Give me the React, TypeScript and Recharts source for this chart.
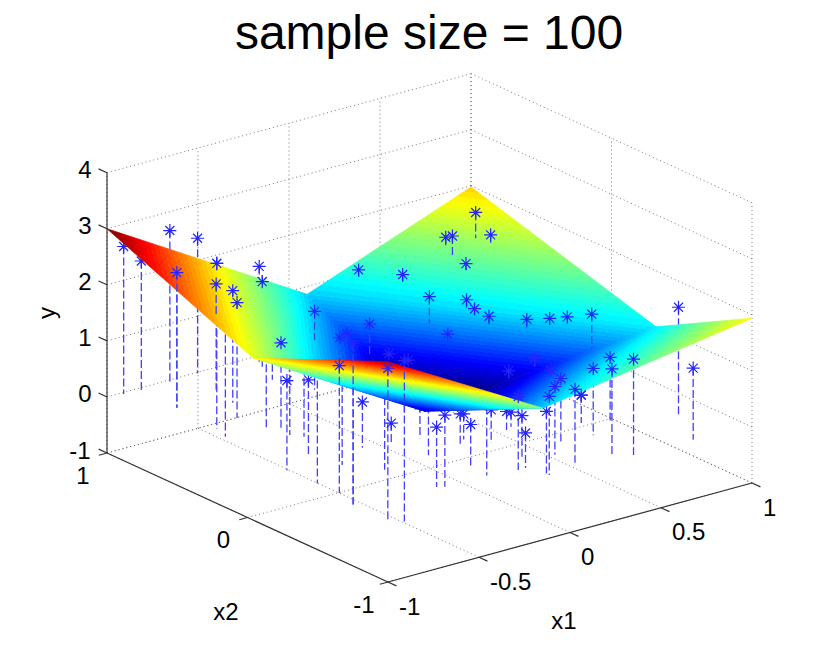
import { Scatter, ScatterChart, XAxis, YAxis } from "recharts";

const WIDTH = 830;
const HEIGHT = 655;

// axis ticks
const x1Ticks = [-1, -0.5, 0, 0.5, 1];
const x2Ticks = [-1, 0, 1];
const yTicks = [-1, 0, 1, 2, 3, 4];
const x1TickLabels = ["-1", "-0.5", "0", "0.5", "1"];
const x2TickLabels = ["-1", "0", "1"];
const yTickLabels = ["-1", "0", "1", "2", "3", "4"];

// fitted surface: corner and crease vertices
const surfaceX1 = [-1, 1, 1, -1, -1, 0.1, 1, -0.15, -0.15];
const surfaceX2 = [1, 1, -1, -1, -0.04, 1, -0.317, -1, -0.16];
const surfaceY = [3, 1.98, 1.94, 2.93, 1.89, 0.86, 1.0, 1.35, 0.33];
// names for the indexes above
const [A, B, R, F, EL, ET, ER, EB, M] = [0, 1, 2, 3, 4, 5, 6, 7, 8];

// back to front, with the colormap position of each corner
const facets = [
	[ET, ER, B],
	[ET, ER, M],
	[A, EL, ET],
	[EL, ET, M],
	[ER, R, EB],
	[ER, EB, M],
	[EL, F, M],
	[F, EB, M],
];
const facetShades = [
	[0.33, 0.36, 0.67],
	[0.33, 0.36, -0.1],
	[1, 0.6, 0.33],
	[0.6, 0.33, -0.1],
	[0.36, 0.63, 0.33],
	[0.36, 0.33, -0.1],
	[0.62, 0.95, 0.08],
	[0.95, 0.5, 0.08],
];

// samples, stems run from y down to 0
const sampleX1 = [
	-0.92, -0.85, -0.67, -0.84, -0.51, -0.86, -0.57, -0.89, -0.61, -0.71, -0.21, -0.255, -0.65, -0.7, -0.3,
	-0.93, -0.655, -0.62, -0.754, -0.925, -0.92, -0.7, -0.96, -0.5, -0.005, 0.035, 0.146, 0.2, 0.56, 0.62,
	0.63, 0.74, 0.83, 0.52, 0.51, 0.52, 0.635, 0.73, 0.865, 0.76, 0.82, 0.7, 0.38, 0.3, 0.54, 0.39, 0.565,
	0.4, 0.62, 0.22, 0.11, 0.12, -0.06, 0.44, -0.06, -0.13, 0.17, -0.04, -0.09, -0.26, -0.14, -0.09, -0.28,
	-0.02, 0.13, -0.51, -0.54, -0.33, -0.23, -0.38, -0.97, -0.91, -0.59, -0.015, 0.076, -0.03, -0.005, -0.23,
	0.34,
];
const sampleX2 = [
	0.985, 0.95, 0.98, 0.71, 0.99, 0.4, 0.78, 0.3, 0.61, 0.45, 0.94, 0.86, 0.215, 0.255, 0.73, -0.19, 0.146,
	0.09, -0.115, -0.4, -0.55, -0.285, -0.7, -0.17, 0.42, 0.55, 0.38, 0.26, 0.61, 0.64, 0.556, 0.63, 0.64,
	0.41, 0.34, 0.25, 0.13, 0.09, 0.14, -0.17, -0.71, -0.97, -0.96, -0.91, -0.586, -0.66, -0.016, -0.045,
	-0.06, -0.65, -0.75, -0.88, -0.93, -0.51, -0.91, -0.8, -0.36, -0.71, -0.8, -0.63, -0.4, -0.36, -0.77,
	-0.465, -0.38, -0.77, -0.75, -0.42, -0.23, -0.22, -0.96, -1.0, -0.445, 0.27, 0.25, 0.6, 0.58, 0.52, 0.31,
];
const sampleY = [
	2.63, 2.35, 2.7, 2.41, 2.41, 2.95, 1.89, 2.02, 2.0, 2.06, 1.7, 1.56, 1.56, 1.96, 1.07, 1.6, 2.05, 2.23,
	1.37, 2.23, 2.27, 2.23, 2.88, 0.815, 1.09, 1.87, 1.885, 1.58, 1.92, 1.855, 1.45, 2.18, 1.69, 1.07, 1.0,
	0.96, 0.94, 0.92, 0.77, 1.27, 1.96, 1.28, 1.71, 1.55, 1.17, 1.19, 0.47, 0.43, 0.27, 1.15, 1.22, 1.31,
	1.4, 0.5, 1.11, 1.31, 0.26, 0.785, 0.625, 0.73, 0.55, 0.46, 1.43, 0.59, 0.33, 1.28, 1.07, 0.89, 0.59,
	0.39, 2.74, 2.87, 1.69, 0.74, 0.57, 0.66, 0.73, 1.4, 0.73,
];
// where a stem enters the surface for samples lying above it, null when the sample is behind it
const sampleCut = [
	null, null, null, 0, null, 2.82, 1.32, null, 1.9, 1.95, null, 1.51, 1.53, null, null, null, null, null,
	null, null, 1.9, null, 0, null, 0.52, 1.75, 1.75, 1.1, 1.73, 1.48, 1.33, 1.72, 1.53, 0.89, 0.89, 0.79,
	0.75, 0.9, 0.71, 0.63, null, null, 1.62, 1.4, 1.1, 1.15, 0.32, 0.3, 0.25, 1.1, 1.15, 1.25, 1.35, 0.45,
	null, 1.28, null, null, null, null, null, null, null, null, null, null, null, null, null, null, 2.2, 1.9,
	null, 0.7, 0.55, 0.5, 0.6, 0.89, 0.7,
];

function project(x1: number, x2: number, y: number) {
	return {
		sx: 429.5 + 182 * x1 - 140.5 * x2,
		sy: 468 - 49.5 * x1 - 64.5 * x2 - 56.06 * (y + 1),
	};
}

type Pt = [number, number, number];

const gridSegments: Pt[][] = [
	...x1Ticks.map((t): Pt[] => [[t, -1, -1], [t, 1, -1]]),
	...x2Ticks.map((t): Pt[] => [[-1, t, -1], [1, t, -1]]),
	...x1Ticks.map((t): Pt[] => [[t, 1, -1], [t, 1, 4]]),
	...x2Ticks.map((t): Pt[] => [[1, t, -1], [1, t, 4]]),
	...yTicks.map((t): Pt[] => [[-1, 1, t], [1, 1, t]]),
	...yTicks.map((t): Pt[] => [[1, 1, t], [1, -1, t]]),
];

const axisSegments: Pt[][] = [
	[[-1, -1, -1], [1, -1, -1]],
	[[-1, -1, -1], [-1, 1, -1]],
	[[-1, 1, -1], [-1, 1, 4]],
	...x1Ticks.map((t): Pt[] => [[t, -1, -1], [t, -1.06, -1]]),
	...x2Ticks.map((t): Pt[] => [[-1, t, -1], [-1.045, t, -1]]),
	...yTicks.map((t): Pt[] => [[-1, 1, t], [-1, 1.06, t]]),
];

// matlab jet, 64 flat colors so the shading keeps its bands
function jet(t: number) {
	const ramp = (d: number) => Math.round(255 * Math.max(0, Math.min(1, 1.5 - Math.abs(4 * t - d))));
	return `rgb(${ramp(3)},${ramp(2)},${ramp(1)})`;
}
const jetStops: { offset: number; color: string }[] = [];
for (let i = 0; i < 64; i++) {
	const color = jet((i + 0.5) / 64);
	jetStops.push({ offset: i / 64, color }, { offset: (i + 1) / 64, color });
}

function facetLine(index: number) {
	const shades = facetShades[index];
	return (props: any) => {
		const [p0, p1, p2] = props.points;
		const [t0, t1, t2] = shades;
		const ax = p1.x - p0.x;
		const ay = p1.y - p0.y;
		const bx = p2.x - p0.x;
		const by = p2.y - p0.y;
		const det = ax * by - ay * bx;
		const gx = ((t1 - t0) * by - (t2 - t0) * ay) / det;
		const gy = ((t2 - t0) * ax - (t1 - t0) * bx) / det;
		const n = gx * gx + gy * gy;
		const id = `facet-${index}`;
		return (
			<g>
				<defs>
					<linearGradient
						id={id}
						gradientUnits="userSpaceOnUse"
						x1={p0.x - (gx * t0) / n}
						y1={p0.y - (gy * t0) / n}
						x2={p0.x + (gx * (1 - t0)) / n}
						y2={p0.y + (gy * (1 - t0)) / n}
					>
						{jetStops.map((s, i) => (
							<stop key={i} offset={s.offset} stopColor={s.color} />
						))}
					</linearGradient>
				</defs>
				<polygon
					points={props.points.map((p: any) => `${p.x},${p.y}`).join(" ")}
					fill={`url(#${id})`}
					stroke={`url(#${id})`}
					strokeWidth={0.7}
				/>
			</g>
		);
	};
}

const NoMark = () => null;

function StarMark({ cx, cy }: any) {
	const r = 6.5;
	const d = 4.5;
	return (
		<path
			d={`M${cx - r} ${cy}H${cx + r}M${cx} ${cy - r}V${cy + r}M${cx - d} ${cy - d}L${cx + d} ${cy + d}M${cx - d} ${cy + d}L${cx + d} ${cy - d}`}
			stroke="#2424ff"
			strokeWidth={1.2}
			fill="none"
		/>
	);
}

function tickLabel(text: string, dx: number, dy: number, anchor = "middle") {
	return ({ cx, cy }: any) => (
		<text
			x={cx + dx}
			y={cy + dy}
			textAnchor={anchor as any}
			dominantBaseline="central"
			fontFamily="Liberation Sans"
			fontSize={24}
			fill="#000"
		>
			{text}
		</text>
	);
}

const segmentData = (seg: Pt[]) => seg.map((p) => project(p[0], p[1], p[2]));
const STEM = { stroke: "#4040ff", strokeWidth: 1.3, strokeDasharray: "8 3" };

const sampleIndexes = sampleX1.map((_, i) => i);
const upperIndexes = sampleIndexes.filter((i) => sampleCut[i] !== null);

export default function App() {
	return (
		<div style={{ position: "absolute", left: 0, top: 0, width: WIDTH, height: HEIGHT, background: "#fff" }}>
			<ScatterChart width={WIDTH} height={HEIGHT} margin={{ top: 0, right: 0, bottom: 0, left: 0 }}>
				<XAxis type="number" dataKey="sx" domain={[0, WIDTH]} hide />
				<YAxis type="number" dataKey="sy" domain={[0, HEIGHT]} reversed hide />

				{gridSegments.map((seg, i) => (
					<Scatter
						key={`grid-${i}`}
						data={segmentData(seg)}
						shape={NoMark}
						line={{ stroke: "#555", strokeWidth: 0.8, strokeDasharray: "1 3" }}
						isAnimationActive={false}
					/>
				))}
				{axisSegments.map((seg, i) => (
					<Scatter
						key={`axis-${i}`}
						data={segmentData(seg)}
						shape={NoMark}
						line={{ stroke: "#333", strokeWidth: 1.2 }}
						isAnimationActive={false}
					/>
				))}

				{sampleIndexes.map((i) => (
					<Scatter
						key={`stem-${i}`}
						data={[project(sampleX1[i], sampleX2[i], sampleY[i]), project(sampleX1[i], sampleX2[i], 0)]}
						shape={NoMark}
						line={STEM}
						isAnimationActive={false}
					/>
				))}
				<Scatter
					data={sampleIndexes.map((i) => project(sampleX1[i], sampleX2[i], sampleY[i]))}
					shape={StarMark}
					isAnimationActive={false}
				/>

				{facets.map((facet, i) => (
					<Scatter
						key={`facet-${i}`}
						data={facet.map((v) => project(surfaceX1[v], surfaceX2[v], surfaceY[v]))}
						shape={NoMark}
						line={facetLine(i)}
						isAnimationActive={false}
					/>
				))}

				{upperIndexes.map((i) => (
					<Scatter
						key={`upper-${i}`}
						data={[
							project(sampleX1[i], sampleX2[i], sampleY[i]),
							project(sampleX1[i], sampleX2[i], sampleCut[i] as number),
						]}
						shape={NoMark}
						line={STEM}
						isAnimationActive={false}
					/>
				))}
				<Scatter
					data={upperIndexes.map((i) => project(sampleX1[i], sampleX2[i], sampleY[i]))}
					shape={StarMark}
					isAnimationActive={false}
				/>

				{yTicks.map((t, i) => (
					<Scatter
						key={`ylabel-${t}`}
						data={[project(-1, 1, t)]}
						shape={tickLabel(yTickLabels[i], t < 0 ? -27 : -22, -3)}
						isAnimationActive={false}
					/>
				))}
				{x1Ticks.map((t, i) => (
					<Scatter
						key={`x1label-${t}`}
						data={[project(t, -1, -1)]}
						shape={tickLabel(x1TickLabels[i], 11, 24, "start")}
						isAnimationActive={false}
					/>
				))}
				{x2Ticks.map((t, i) => (
					<Scatter
						key={`x2label-${t}`}
						data={[project(-1, t, -1)]}
						shape={tickLabel(x2TickLabels[i], -24, 22)}
						isAnimationActive={false}
					/>
				))}

				<text x={429} y={32} textAnchor="middle" dominantBaseline="central" fontFamily="Liberation Sans" fontSize={48}>
					sample size = 100
				</text>
				<text x={564} y={620} textAnchor="middle" dominantBaseline="central" fontFamily="Liberation Sans" fontSize={24}>
					x1
				</text>
				<text x={226} y={611} textAnchor="middle" dominantBaseline="central" fontFamily="Liberation Sans" fontSize={24}>
					x2
				</text>
				<text
					x={46}
					y={313}
					textAnchor="middle"
					dominantBaseline="central"
					fontFamily="Liberation Sans"
					fontSize={24}
					transform="rotate(-90 46 313)"
				>
					y
				</text>
			</ScatterChart>
		</div>
	);
}
